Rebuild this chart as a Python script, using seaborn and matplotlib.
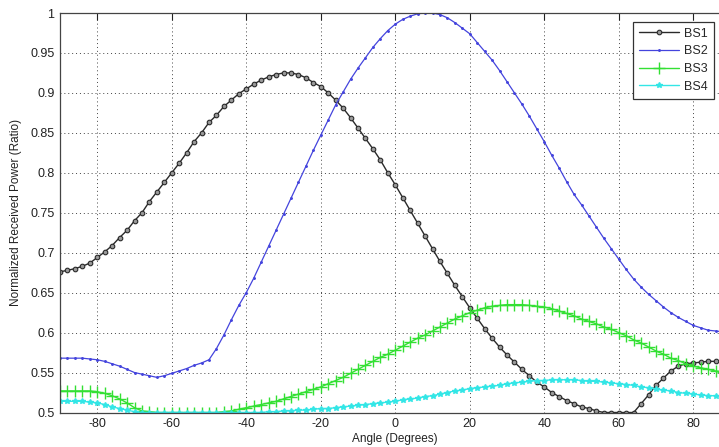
import numpy as np
import pandas as pd
import matplotlib
matplotlib.use("Agg")
import matplotlib.pyplot as plt
import seaborn as sns

# angle samples every 2 degrees, -90 .. 90
angle = list(range(-90, 92, 2))

bs1 = [0.676, 0.678, 0.680, 0.683, 0.687, 0.694, 0.701, 0.709, 0.719, 0.728,
       0.740, 0.750, 0.764, 0.776, 0.788, 0.800, 0.812, 0.825, 0.839, 0.850,
       0.863, 0.872, 0.883, 0.891, 0.899, 0.905, 0.911, 0.916, 0.920, 0.923,
       0.925, 0.925, 0.923, 0.919, 0.913, 0.908, 0.900, 0.891, 0.881, 0.869,
       0.856, 0.843, 0.830, 0.816, 0.800, 0.785, 0.769, 0.753, 0.737, 0.721,
       0.705, 0.689, 0.674, 0.659, 0.645, 0.631, 0.618, 0.605, 0.593, 0.582,
       0.572, 0.563, 0.554, 0.546, 0.538, 0.532, 0.525, 0.520, 0.515, 0.511,
       0.507, 0.505, 0.502, 0.500, 0.500, 0.500, 0.500, 0.500, 0.511, 0.522,
       0.534, 0.543, 0.552, 0.558, 0.561, 0.562, 0.563, 0.564, 0.564, 0.565,
       0.565]

bs2 = [0.568, 0.568, 0.568, 0.568, 0.567, 0.566, 0.564, 0.561, 0.558, 0.554,
       0.550, 0.548, 0.546, 0.544, 0.546, 0.549, 0.552, 0.555, 0.559, 0.562,
       0.566, 0.580, 0.597, 0.616, 0.634, 0.650, 0.668, 0.688, 0.708, 0.728,
       0.748, 0.768, 0.788, 0.808, 0.828, 0.847, 0.866, 0.885, 0.901, 0.917,
       0.931, 0.944, 0.957, 0.968, 0.978, 0.986, 0.992, 0.996, 0.999, 1.000,
       1.000, 0.998, 0.994, 0.988, 0.981, 0.974, 0.963, 0.952, 0.941, 0.928,
       0.914, 0.900, 0.886, 0.871, 0.855, 0.839, 0.822, 0.806, 0.789, 0.773,
       0.760, 0.746, 0.732, 0.718, 0.705, 0.692, 0.679, 0.667, 0.657, 0.648,
       0.640, 0.632, 0.625, 0.619, 0.614, 0.609, 0.606, 0.603, 0.602, 0.601,
       0.600]

bs3 = [0.527, 0.527, 0.527, 0.527, 0.527, 0.526, 0.524, 0.521, 0.517, 0.512,
       0.506, 0.502, 0.501, 0.500, 0.500, 0.500, 0.500, 0.500, 0.500, 0.500,
       0.500, 0.500, 0.501, 0.502, 0.504, 0.506, 0.508, 0.510, 0.512, 0.514,
       0.517, 0.520, 0.523, 0.526, 0.529, 0.532, 0.536, 0.540, 0.544, 0.549,
       0.554, 0.559, 0.564, 0.569, 0.573, 0.578, 0.583, 0.588, 0.593, 0.597,
       0.602, 0.607, 0.612, 0.617, 0.621, 0.625, 0.628, 0.631, 0.633, 0.634,
       0.635, 0.635, 0.635, 0.634, 0.633, 0.632, 0.630, 0.627, 0.624, 0.621,
       0.617, 0.614, 0.611, 0.607, 0.604, 0.600, 0.596, 0.591, 0.587, 0.582,
       0.577, 0.573, 0.568, 0.565, 0.561, 0.558, 0.556, 0.554, 0.552, 0.551,
       0.550]

bs4 = [0.514, 0.514, 0.514, 0.514, 0.513, 0.512, 0.510, 0.507, 0.505, 0.503,
       0.501, 0.500, 0.500, 0.500, 0.500, 0.500, 0.500, 0.500, 0.500, 0.500,
       0.500, 0.500, 0.500, 0.500, 0.500, 0.500, 0.500, 0.500, 0.501, 0.501,
       0.502, 0.502, 0.503, 0.503, 0.504, 0.505, 0.505, 0.506, 0.507, 0.508,
       0.509, 0.510, 0.511, 0.512, 0.513, 0.514, 0.516, 0.517, 0.518, 0.520,
       0.521, 0.523, 0.525, 0.527, 0.528, 0.530, 0.531, 0.532, 0.533, 0.534,
       0.536, 0.537, 0.538, 0.539, 0.540, 0.540, 0.541, 0.541, 0.541, 0.541,
       0.540, 0.539, 0.539, 0.538, 0.537, 0.536, 0.535, 0.534, 0.532, 0.531,
       0.529, 0.528, 0.527, 0.525, 0.524, 0.523, 0.522, 0.521, 0.521, 0.520,
       0.520]

names = ["BS1", "BS2", "BS3", "BS4"]
series = [bs1, bs2, bs3, bs4]
colors = ["#2a2a2a", "#4444dd", "#33e033", "#33e6e6"]
marks = ["o", ".", "+", "*"]
msize = [3.3, 2.2, 8, 4]

xticks = [-80, -60, -40, -20, 0, 20, 40, 60, 80]
yticks = [0.5, 0.55, 0.6, 0.65, 0.7, 0.75, 0.8, 0.85, 0.9, 0.95, 1.0]
ytick_labels = ["0.5", "0.55", "0.6", "0.65", "0.7", "0.75", "0.8", "0.85", "0.9", "0.95", "1"]

sns.set_style("white")
plt.rcParams['font.family'] = ['Liberation Sans', 'DejaVu Sans']

fig = plt.figure(figsize=(7.19, 4.47), dpi=100)
# axes runs past the right edge like the cropped original
ax = fig.add_axes([60 / 719, 1 - 412.5 / 447, 670.5 / 719, 399.5 / 447])

for vals, c in zip(series, colors):
    sns.lineplot(x=angle, y=vals, ax=ax, color=c, legend=False)

# seaborn draws plain lines; set the marker look on each one
for line, c, m, s in zip(ax.lines, colors, marks, msize):
    line.set_linestyle("-")
    line.set_linewidth(1.0)
    line.set_marker(m)
    line.set_markersize(s)
    line.set_markeredgecolor(c)
    line.set_markerfacecolor(c)
    line.set_markeredgewidth(1.0)
ax.lines[0].set_markerfacecolor("#9a9a9a")
ax.lines[0].set_markeredgewidth(0.8)
ax.lines[1].set_linewidth(0.9)

ax.set_xlim(-90, 90)
ax.set_ylim(0.5, 1.0)
ax.set_xticks(xticks)
ax.set_xticklabels([str(t) for t in xticks])
ax.set_yticks(yticks)
ax.set_yticklabels(ytick_labels)
ax.grid(True, linestyle=(0, (1, 3)), color="#444444", linewidth=0.7)
ax.tick_params(direction="in", length=5, width=0.8, top=True, right=True,
               labelsize=9, colors="#222222", pad=4)
for s in ax.spines.values():
    s.set_color("#444444")
    s.set_linewidth(0.9)

ax.set_xlabel("Angle (Degrees)", fontsize=8.5, labelpad=2, color="#222222")
ax.set_ylabel("Normalized Received Power (Ratio)", fontsize=8.5, labelpad=6, color="#222222")

leg = ax.legend(handles=ax.lines[:4], labels=names, loc="upper right",
                bbox_to_anchor=(714 / 719, 1 - 21.5 / 447),
                bbox_transform=fig.transFigure, borderaxespad=0, fancybox=False,
                framealpha=1, edgecolor="#333333", fontsize=9, handlelength=3.2,
                handletextpad=0.4, labelspacing=0.45, borderpad=0.5, numpoints=1)
leg.get_frame().set_linewidth(0.9)

fig.savefig("out.png", dpi=100)
